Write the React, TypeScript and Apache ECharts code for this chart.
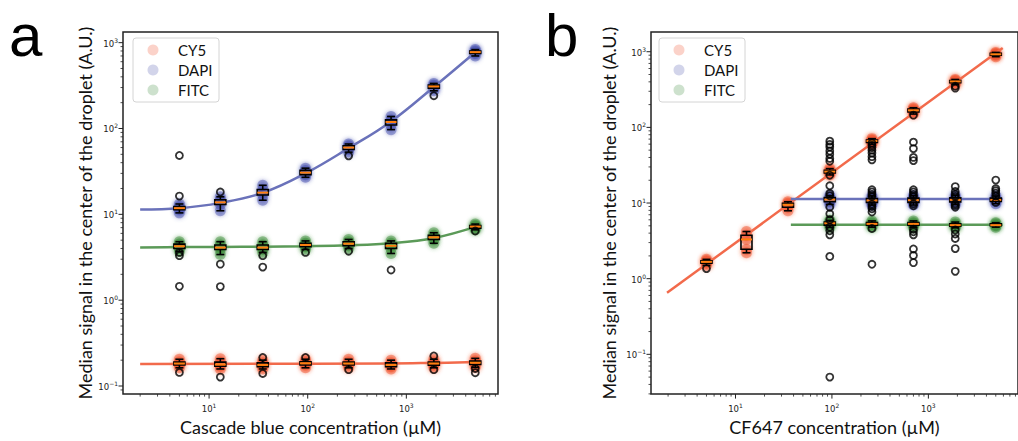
import React, { useEffect, useRef } from 'react';
import * as echarts from 'echarts';

// concentrations (µM)
const conc = [5, 13, 35, 95, 260, 700, 1900, 5000];
const concHigh = [95, 260, 700, 1900, 5000];

// Panel a — boxes: [low whisker, q1, median, q3, high whisker]
const aCy5Box = [
  [0.163, 0.176, 0.183, 0.19, 0.205],
  [0.158, 0.17, 0.178, 0.19, 0.208],
  [0.158, 0.168, 0.176, 0.186, 0.2],
  [0.163, 0.176, 0.184, 0.192, 0.205],
  [0.163, 0.176, 0.183, 0.19, 0.205],
  [0.158, 0.168, 0.176, 0.186, 0.2],
  [0.163, 0.175, 0.183, 0.19, 0.205],
  [0.165, 0.178, 0.187, 0.195, 0.21],
];
const aDapiBox = [
  [10.4, 11.3, 11.8, 12.3, 13.2],
  [11, 13, 13.8, 14.8, 16],
  [14.6, 16.8, 17.9, 19.5, 21.8],
  [27, 29, 30.6, 32.5, 34.5],
  [53, 57, 60, 63, 66],
  [97, 110, 119, 126, 138],
  [275, 295, 309, 320, 335],
  [700, 750, 776, 800, 830],
];
const aFitcBox = [
  [3.7, 4.0, 4.25, 4.5, 4.8],
  [3.4, 3.9, 4.1, 4.4, 4.8],
  [3.6, 3.9, 4.1, 4.4, 4.8],
  [3.9, 4.2, 4.4, 4.6, 4.9],
  [4.0, 4.3, 4.55, 4.8, 5.1],
  [3.5, 4.0, 4.3, 4.6, 4.9],
  [4.6, 5.1, 5.4, 5.7, 6.1],
  [6.6, 6.9, 7.2, 7.4, 7.7],
];
const aOutliers = [
  [5, 48.5], [5, 16.3], [13, 18.2], [260, 48], [1900, 241],
  [5, 3.3], [5, 3.6], [5, 1.45], [13, 2.63], [13, 1.44], [35, 3.3], [35, 2.43],
  [95, 3.6], [260, 3.72], [700, 2.25], [5000, 6.4],
  [5, 0.144], [13, 0.127], [35, 0.215], [35, 0.14], [95, 0.215], [260, 0.155],
  [1900, 0.224], [1900, 0.155], [5000, 0.16], [5000, 0.143],
];
const aCy5Fit = [[2, 0.181], [700, 0.183], [1900, 0.186], [5100, 0.19]];
const aDapiFit = [[2, 11.4], [5, 11.8], [13, 13.6], [35, 17.8], [95, 30], [260, 59], [700, 121], [1900, 305], [5100, 790]];
const aFitcFit = [[2, 4.12], [5, 4.15], [13, 4.17], [35, 4.2], [95, 4.25], [260, 4.35], [700, 4.6], [1900, 5.3], [5100, 7.2]];

// Panel b
const bCy5Box = [
  [1.5, 1.6, 1.67, 1.72, 1.8],
  [2.2, 2.45, 3.3, 3.75, 4.2],
  [7.9, 8.8, 9.5, 9.9, 10.4],
  [23.5, 25, 26, 27, 28.5],
  [60, 63, 66, 68, 71],
  [150, 160, 168, 175, 182],
  [370, 390, 405, 415, 430],
  [860, 900, 925, 950, 980],
];
const bDapiBox = [
  [9.6, 10.4, 11.1, 11.8, 12.6],
  [9.4, 10.2, 10.8, 11.5, 12.4],
  [9.4, 10.2, 10.9, 11.6, 12.5],
  [9.5, 10.3, 11.0, 11.7, 12.6],
  [9.8, 10.5, 11.0, 11.6, 12.4],
];
const bFitcBox = [
  [4.8, 5.1, 5.4, 5.6, 5.9],
  [4.8, 5.1, 5.3, 5.5, 5.8],
  [4.8, 5.1, 5.3, 5.5, 5.8],
  [4.7, 4.95, 5.1, 5.3, 5.6],
  [4.8, 5.0, 5.1, 5.3, 5.5],
];
const bOut95 = [65.8, 59.6, 55, 48.9, 44.2, 38.9, 35.6, 23.3, 16.9, 13.4, 12.5, 8.8, 7.2, 6.0, 4.8, 4.3, 3.8, 1.97, 0.05];
const bOut260 = [62, 58, 54, 50, 45.7, 41, 37.2, 15, 14, 13, 12.2, 9.6, 9, 8.4, 7.6, 4.6, 1.55];
const bOut700 = [145, 63.8, 52.4, 40.1, 36.4, 15, 14, 13, 12.2, 9.8, 9.2, 4.5, 4.17, 3.8, 2.47, 2.03, 1.63];
const bOut1900 = [350, 330, 16.5, 14.2, 13, 12.2, 9.8, 9.3, 8.8, 4.4, 3.9, 3.4, 2.5, 1.25];
const bOut5000 = [20.1, 15.5, 14.5, 13.5, 12.4, 10.2];
const bOut5 = [1.36];
const bCy5Fit = [[1.95, 0.65], [5900, 1120]];
const bDapiFit = [[37.5, 11.3], [5900, 11.3]];
const bFitcFit = [[37.5, 5.18], [5900, 5.18]];

const dyes = ['CY5', 'DAPI', 'FITC'];
const dyeColors = ['#f26a4b', '#6a72ba', '#5b9a58'];
const blobColors = ['#f0532f', '#4a52b0', '#3f8e3c'];
const medianColor = '#ff7f0e';
const decades = [0.01, 0.1, 1, 10, 100, 1000, 10000];
const multipliers = [1, 2, 3, 4, 5, 6, 7, 8, 9];

const FONT = 'Lato';

function supLabel(v: number) {
  const l = Math.log10(v);
  const e = Math.round(l);
  if (Math.abs(l - e) > 1e-6) return '';
  return `{b|10}{s|${e < 0 ? '\u2212' + -e : e}}`;
}
const rich = {
  b: { fontSize: 8.5, fontFamily: 'DejaVu Sans', color: '#222', verticalAlign: 'bottom', padding: [0, 0, 0, 0] },
  s: { fontSize: 6, fontFamily: 'DejaVu Sans', color: '#222', verticalAlign: 'bottom', padding: [0, 0, 5, 0] },
};

function boxRows(xs: number[], boxes: number[][]) {
  return xs.map((x, i) => [x, ...boxes[i]]);
}
function blobRows(xs: number[], boxes: number[][]) {
  const out: number[][] = [];
  xs.forEach((x, i) => boxes[i].forEach((v) => out.push([x, v])));
  return out;
}
function outRows(x: number, ys: number[]) {
  return ys.map((y) => [x, y]);
}

function boxRender(params: any, api: any) {
  const x = api.value(0);
  const pLo = api.coord([x, api.value(1)]);
  const pQ1 = api.coord([x, api.value(2)]);
  const pMed = api.coord([x, api.value(3)]);
  const pQ3 = api.coord([x, api.value(4)]);
  const pHi = api.coord([x, api.value(5)]);
  const cx = pMed[0];
  const bw = 5.5;
  const cw = 4;
  const black = { stroke: '#000', lineWidth: 1.6, fill: 'none' };
  return {
    type: 'group',
    children: [
      { type: 'line', shape: { x1: cx, y1: pLo[1], x2: cx, y2: pQ1[1] }, style: black },
      { type: 'line', shape: { x1: cx, y1: pQ3[1], x2: cx, y2: pHi[1] }, style: black },
      { type: 'line', shape: { x1: cx - cw, y1: pLo[1], x2: cx + cw, y2: pLo[1] }, style: black },
      { type: 'line', shape: { x1: cx - cw, y1: pHi[1], x2: cx + cw, y2: pHi[1] }, style: black },
      { type: 'rect', shape: { x: cx - bw, y: pQ3[1], width: 2 * bw, height: pQ1[1] - pQ3[1] }, style: black },
      { type: 'line', shape: { x1: cx - bw, y1: pMed[1], x2: cx + bw, y2: pMed[1] }, style: { stroke: medianColor, lineWidth: 2 } },
    ],
  };
}

function tickRender(params: any, api: any) {
  const cs = params.coordSys;
  const kind = api.value(2);
  const major = api.value(3) === 1;
  const len = major ? 4.5 : 2.5;
  const st = { stroke: '#222', lineWidth: major ? 1 : 0.8 };
  if (kind === 0) {
    const px = api.coord([api.value(0), api.value(1)])[0];
    const y0 = cs.y + cs.height;
    return { type: 'line', shape: { x1: px, y1: y0, x2: px, y2: y0 + len }, style: st };
  }
  const py = api.coord([api.value(0), api.value(1)])[1];
  const x0 = cs.x;
  return { type: 'line', shape: { x1: x0 - len, y1: py, x2: x0, y2: py }, style: st };
}

function tickRows(xMin: number, xMax: number, yMin: number, yMax: number) {
  const rows: number[][] = [];
  decades.forEach((d) =>
    multipliers.forEach((m) => {
      const v = d * m;
      const major = m === 1 ? 1 : 0;
      if (v >= xMin && v <= xMax) rows.push([v, 1, 0, major]);
      if (v >= yMin && v <= yMax) rows.push([10, v, 1, major]);
    })
  );
  return rows;
}

const panels = [
  {
    left: 123, xMin: 1.34, xMax: 8500, yMin: 0.0805, yMax: 1331,
    xName: 'Cascade blue concentration (µM)', yNameGap: 27,
    boxes: [boxRows(conc, aCy5Box), boxRows(conc, aDapiBox), boxRows(conc, aFitcBox)],
    blobs: [blobRows(conc, aCy5Box), blobRows(conc, aDapiBox), blobRows(conc, aFitcBox)],
    fits: [aCy5Fit, aDapiFit, aFitcFit],
    outliers: aOutliers,
    legendLeft: 133,
  },
  {
    left: 651, xMin: 1.33, xMax: 8500, yMin: 0.0298, yMax: 1823,
    xName: 'CF647 concentration (µM)', yNameGap: 33,
    boxes: [boxRows(conc, bCy5Box), boxRows(concHigh, bDapiBox), boxRows(concHigh, bFitcBox)],
    blobs: [blobRows(conc, bCy5Box), blobRows(concHigh, bDapiBox), blobRows(concHigh, bFitcBox)],
    fits: [bCy5Fit, bDapiFit, bFitcFit],
    outliers: [
      ...outRows(5, bOut5), ...outRows(95, bOut95), ...outRows(260, bOut260),
      ...outRows(700, bOut700), ...outRows(1900, bOut1900), ...outRows(5000, bOut5000),
    ],
    legendLeft: 659,
  },
];

function legendGraphic(left: number) {
  const top = 38;
  const children: any[] = [
    { type: 'rect', shape: { x: left, y: top, width: 86, height: 64, r: 3 }, style: { fill: '#fff', stroke: '#d4d4d4', lineWidth: 1 } },
  ];
  dyes.forEach((d, k) => {
    const cy = top + 12 + k * 20;
    children.push({ type: 'circle', shape: { cx: left + 20, cy, r: 5.5 }, style: { fill: dyeColors[k], opacity: 0.3 } });
    children.push({
      type: 'text', x: left + 45, y: cy,
      style: { text: d, fontFamily: FONT, fontSize: 15, fill: '#111', verticalAlign: 'middle', align: 'left' },
    });
  });
  return { type: 'group', z: 100, children };
}

function buildOption() {
  const grid: any[] = [];
  const xAxis: any[] = [];
  const yAxis: any[] = [];
  const series: any[] = [];
  const graphic: any[] = [];
  panels.forEach((p, i) => {
    grid.push({ left: p.left, top: 32, width: 375, height: 373, show: true, borderColor: '#222', borderWidth: 1.5, backgroundColor: 'transparent' });
    xAxis.push({
      gridIndex: i, type: 'log', logBase: 10, min: p.xMin, max: p.xMax,
      axisLine: { show: false }, axisTick: { show: false }, splitLine: { show: false },
      axisLabel: { formatter: supLabel, rich, margin: 8, showMinLabel: false, showMaxLabel: false },
      name: p.xName, nameLocation: 'middle', nameGap: 16,
      nameTextStyle: { fontFamily: FONT, fontSize: 18, color: '#111', verticalAlign: 'top' },
    });
    yAxis.push({
      gridIndex: i, type: 'log', logBase: 10, min: p.yMin, max: p.yMax,
      axisLine: { show: false }, axisTick: { show: false }, splitLine: { show: false },
      axisLabel: { formatter: supLabel, rich, margin: 5, showMinLabel: false, showMaxLabel: false },
      name: 'Median signal in the center of the droplet (A.U.)', nameLocation: 'middle', nameGap: p.yNameGap,
      nameTextStyle: { fontFamily: FONT, fontSize: 18, color: '#111' },
    });
    dyes.forEach((d, k) => {
      series.push({
        type: 'scatter', name: d, xAxisIndex: i, yAxisIndex: i, data: p.blobs[k], z: 1,
        symbol: 'circle', symbolSize: 11,
        itemStyle: { color: blobColors[k], opacity: 0.45, shadowBlur: 4, shadowColor: blobColors[k] },
        silent: true,
      });
    });
    dyes.forEach((d, k) => {
      series.push({
        type: 'line', name: d + ' fit', xAxisIndex: i, yAxisIndex: i, data: p.fits[k], z: 2,
        showSymbol: false, smooth: 0.4, lineStyle: { color: dyeColors[k], width: 2.5 }, silent: true,
      });
    });
    dyes.forEach((d, k) => {
      series.push({
        type: 'custom', name: d + ' box', xAxisIndex: i, yAxisIndex: i, data: p.boxes[k], z: 3,
        renderItem: boxRender, silent: true,
      });
    });
    series.push({
      type: 'scatter', name: 'outliers', xAxisIndex: i, yAxisIndex: i, data: p.outliers, z: 4,
      symbol: 'circle', symbolSize: 7,
      itemStyle: { color: 'rgba(255,255,255,0)', borderColor: '#000', borderWidth: 1.8 }, silent: true,
    });
    series.push({
      type: 'custom', name: 'ticks', xAxisIndex: i, yAxisIndex: i, z: 5,
      data: tickRows(p.xMin, p.xMax, p.yMin, p.yMax), renderItem: tickRender, clip: false, silent: true,
    });
    graphic.push(legendGraphic(p.legendLeft));
  });
  graphic.push(
    { type: 'text', x: 9, y: 35, style: { text: 'a', fontSize: 60, lineHeight: 44, fontFamily: 'Liberation Sans', fill: '#000', verticalAlign: 'middle' } },
    { type: 'text', x: 545, y: 35, style: { text: 'b', fontSize: 60, lineHeight: 44, fontFamily: 'Liberation Sans', fill: '#000', verticalAlign: 'middle' } }
  );
  return {
    animation: false,
    backgroundColor: '#fff',
    grid, xAxis, yAxis, series, graphic,
  };
}

export default function App() {
  const ref = useRef<HTMLDivElement>(null);
  useEffect(() => {
    if (!ref.current) return;
    const chart = echarts.init(ref.current, undefined, { renderer: 'svg' });
    chart.setOption(buildOption() as any);
    return () => chart.dispose();
  }, []);
  return <div ref={ref} style={{ position: 'absolute', left: 0, top: 0, width: 1018, height: 441 }} />;
}
